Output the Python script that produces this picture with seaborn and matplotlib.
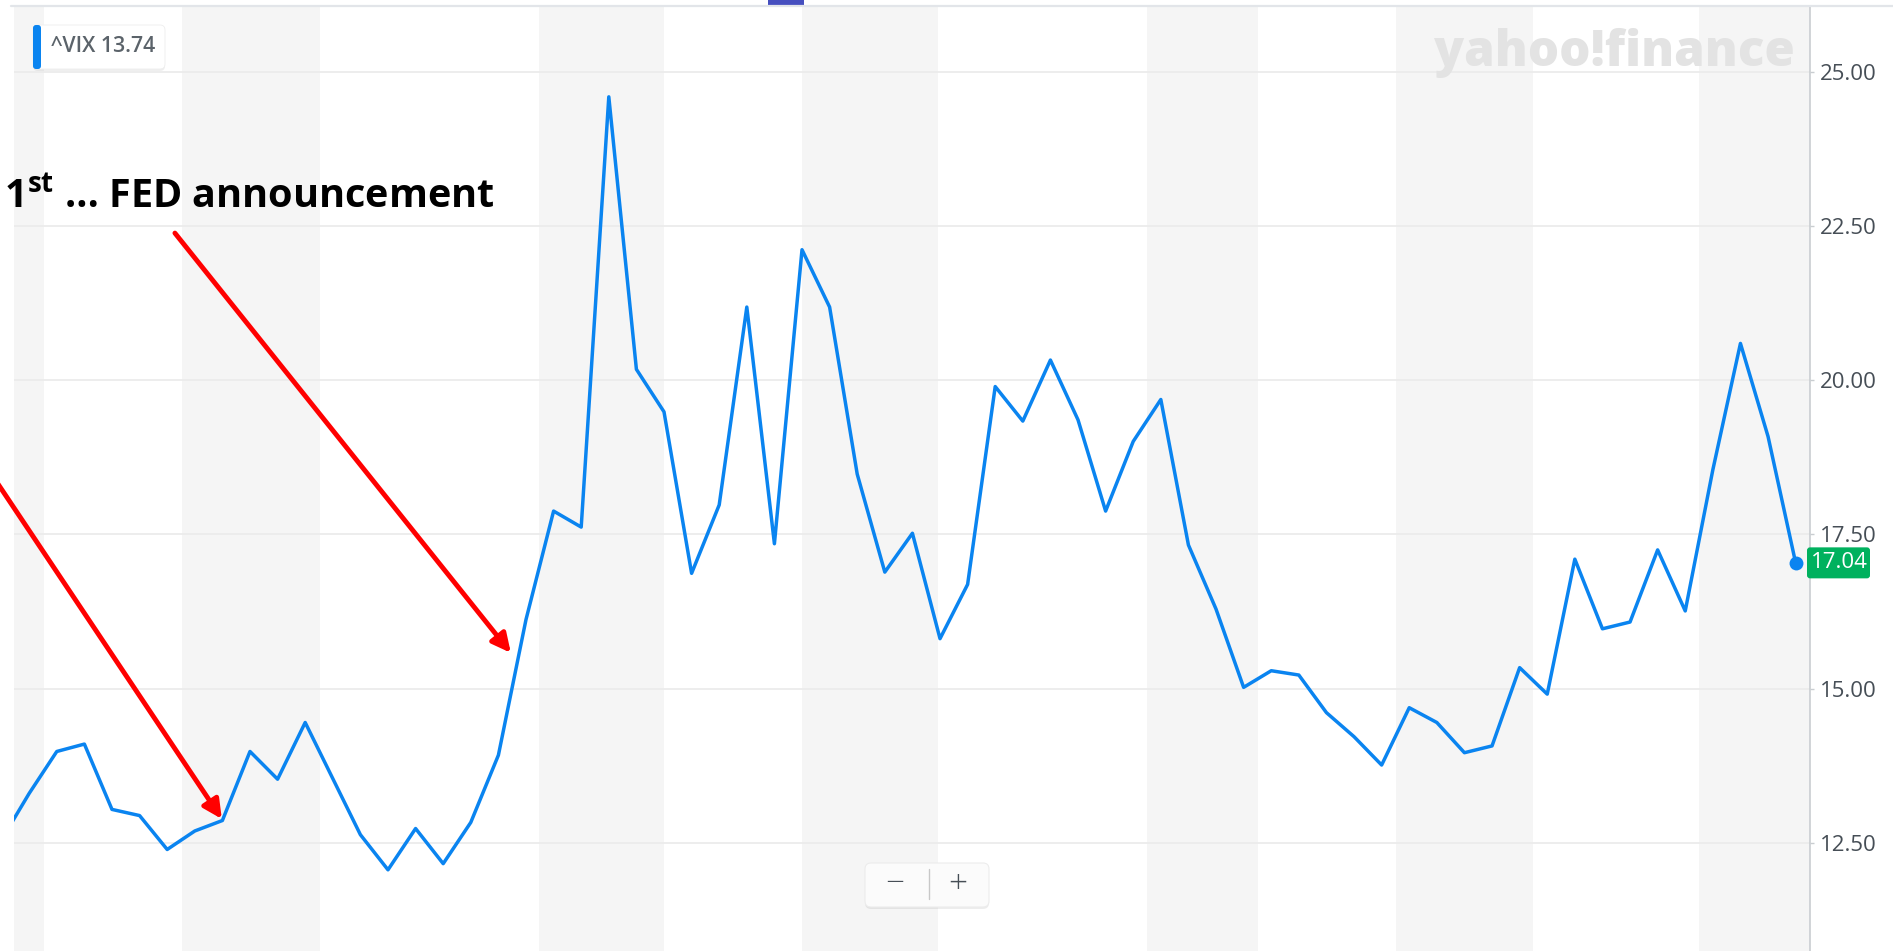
import pandas as pd
import seaborn as sns
import matplotlib.pyplot as plt
from matplotlib.patches import FancyBboxPatch
from matplotlib.lines import Line2D
from matplotlib.transforms import IdentityTransform

W, H = 1893, 951

# trading days shown in the window (index 0 sits just left of the visible area)
day = list(range(66))
vix = [12.55, 13.30, 13.98, 14.10, 13.04, 12.94, 12.39, 12.69, 12.86, 13.98,
       13.53, 14.45, 13.54, 12.63, 12.06, 12.73, 12.16, 12.83, 13.92, 16.12,
       17.88, 17.62, 24.60, 20.18, 19.49, 16.87, 17.98, 21.19, 17.35, 22.12,
       21.19, 18.48, 16.89, 17.52, 15.81, 16.69, 19.90, 19.34, 20.33, 19.36,
       17.88, 19.01, 19.69, 17.33, 16.29, 15.02, 15.29, 15.22, 14.61, 14.22,
       13.76, 14.69, 14.45, 13.96, 14.07, 15.34, 14.91, 17.10, 15.97, 16.08,
       17.25, 16.26, 18.55, 20.60, 19.09, 17.04]
y_ticks = [12.5, 15.0, 17.5, 20.0, 22.5, 25.0]
# alternating grey period bands (start, end) in day units
shaded_periods = [(0.45, 1.54), (6.54, 11.54), (19.47, 24.0), (29.0, 33.93),
                  (41.5, 45.52), (50.52, 55.49), (61.5, 65.52)]
legend_label = "^VIX 13.74"
note_text = r"1$^{\mathbf{st}}$ … FED announcement"

BLUE = "#0a84f0"
GREEN = "#00b15e"
AXIS_GREY = "#c9cdd1"
TEXT_GREY = "#464e56"

sns.set_style("white")
plt.rcParams["font.family"] = ["Open Sans", "DejaVu Sans"]
plt.rcParams["mathtext.fontset"] = "custom"
plt.rcParams["mathtext.rm"] = "Open Sans"
plt.rcParams["mathtext.bf"] = "Open Sans:bold"

fig = plt.figure(figsize=(W / 100, H / 100), dpi=100)
ax = fig.add_axes([14 / W, 0, (1810 - 14) / W, 1 - 6 / H])

for a, b in shaded_periods:
    ax.axvspan(a, b, color="#f5f5f5", lw=0, zorder=0)

df = pd.DataFrame({"day": day, "vix": vix})
sns.lineplot(data=df, x="day", y="vix", ax=ax, color=BLUE, lw=2.5, zorder=3)
ax.plot(day[-1], vix[-1], "o", color=BLUE, ms=10, mec="none", zorder=4, clip_on=False)

ax.set_xlim(0.45, 65.52)
ax.set_ylim(10.743, 26.074)
ax.yaxis.tick_right()
ax.set_yticks(y_ticks)
ax.set_yticklabels([f"{v:.2f}" for v in y_ticks])
ax.tick_params(axis="y", length=3, width=1, color=AXIS_GREY, pad=4,
               labelsize=16, labelcolor=TEXT_GREY)
ax.set_xticks([])
ax.set_xlabel("")
ax.set_ylabel("")
ax.grid(axis="y", color="#ececec", lw=1.3)
ax.set_axisbelow(True)
for s in ["top", "left", "bottom"]:
    ax.spines[s].set_visible(False)
ax.spines["right"].set_color(AXIS_GREY)
ax.spines["right"].set_linewidth(1.2)

# top border and little range marker
fig.add_artist(Line2D([11 / W, 1], [1 - 6 / H, 1 - 6 / H], color="#e2e5e9", lw=1.6))
fig.add_artist(FancyBboxPatch((768, H - 6), 36, 6, boxstyle="square,pad=0",
                              fc="#464fbf", ec="none", transform=IdentityTransform()))

# watermark
fig.text(1795 / W, 1 - 66 / H, "yahoo!finance", ha="right", va="baseline",
         fontsize=35.5, fontweight="heavy", color="#e3e3e3")

# legend chip
ident = IdentityTransform()
fig.add_artist(FancyBboxPatch((33, H - 71), 132, 44, boxstyle="round,pad=0,rounding_size=5",
                              fc="#00000010", ec="none", transform=ident))
fig.add_artist(FancyBboxPatch((33, H - 69), 132, 44, boxstyle="round,pad=0,rounding_size=5",
                              fc="white", ec="#eeeeee", lw=0.6, transform=ident))
fig.add_artist(FancyBboxPatch((33, H - 69), 8, 44, boxstyle="round,pad=0,rounding_size=3",
                              fc=BLUE, ec="none", transform=ident))
fig.text(51 / W, 1 - 47 / H, legend_label, ha="left", va="center",
         fontsize=15.3, fontweight="semibold", color="#5b636a")

# last price label
y_last = ax.transData.transform((day[-1], vix[-1]))[1]
fig.add_artist(FancyBboxPatch((1807, y_last - 15.5), 63, 31, boxstyle="round,pad=0,rounding_size=3",
                              fc=GREEN, ec="none", transform=ident))
fig.text(1839 / W, y_last / H, f"{vix[-1]:.2f}", ha="center", va="center",
         fontsize=16, color="white")

# zoom buttons
fig.add_artist(FancyBboxPatch((865, H - 909), 124, 44, boxstyle="round,pad=0,rounding_size=6",
                              fc="#00000012", ec="none", transform=ident))
fig.add_artist(FancyBboxPatch((865, H - 907), 124, 44, boxstyle="round,pad=0,rounding_size=6",
                              fc="#fbfbfb", ec="#ececec", lw=0.8, transform=ident))
fig.add_artist(Line2D([929, 929], [H - 869, H - 899], color="#c8c8c8", lw=1, transform=ident))
fig.text(895 / W, 1 - 884 / H, "−", ha="center", va="center", fontsize=24,
         fontweight="light", color=TEXT_GREY)
fig.text(958 / W, 1 - 884 / H, "+", ha="center", va="center", fontsize=24,
         fontweight="light", color=TEXT_GREY)

# annotation
fig.text(4.5 / W, 1 - 208 / H, note_text, ha="left", va="baseline",
         fontsize=28.5, fontweight="bold", color="black")
arrow = dict(arrowstyle="-|>", color="#ff0000", lw=3.5, mutation_scale=28, shrinkA=0, shrinkB=0)
ax.annotate("", xy=(18.45, 15.58), xytext=(6.28, 22.39), arrowprops=arrow,
            annotation_clip=False, zorder=5)
ax.annotate("", xy=(7.98, 12.885), xytext=(-1.144, 19.0), arrowprops=arrow,
            annotation_clip=False, zorder=5)

plt.savefig("out.png", dpi=100)
